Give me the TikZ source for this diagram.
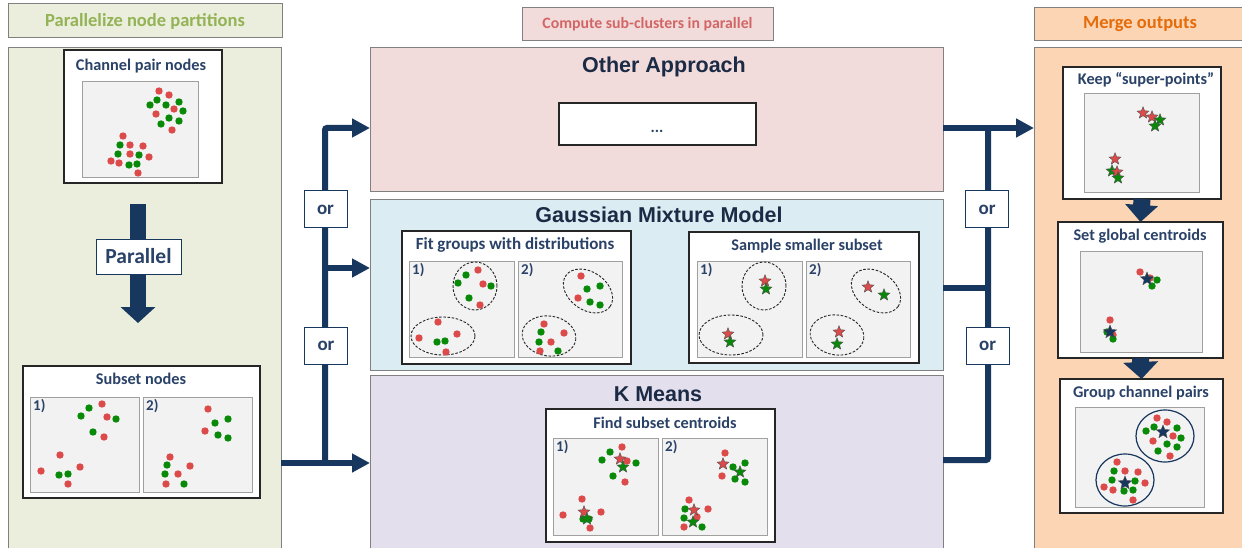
\documentclass[tikz,border=0pt]{standalone}
\usepackage{fontspec}
\setmainfont{Carlito}
\newfontfamily\arialf{Liberation Sans}
\usetikzlibrary{shapes.geometric,arrows.meta}
\definecolor{navy}{HTML}{17375E}
\definecolor{titlenavy}{HTML}{1B2B45}
\definecolor{subnavy}{HTML}{2A4268}
\definecolor{dotred}{HTML}{DC4A4A}
\definecolor{dotgreen}{HTML}{088A08}
\definecolor{leftfill}{HTML}{EBEEDC}
\definecolor{lefttext}{HTML}{93B356}
\definecolor{pinkfill}{HTML}{F2DCDB}
\definecolor{pinktext}{HTML}{D26666}
\definecolor{bluefill}{HTML}{DBEDF3}
\definecolor{lavfill}{HTML}{E4DFEC}
\definecolor{peachfill}{HTML}{FCD5B5}
\definecolor{orangetext}{HTML}{E46C0A}
\definecolor{innerfill}{HTML}{F2F2F2}
\definecolor{innerdraw}{HTML}{A0A0A0}
\newcommand\reddots[1]{\foreach \p in {#1} \fill[dotred] \p circle[radius=3.7pt];}
\newcommand\greendots[1]{\foreach \p in {#1} \fill[dotgreen] \p circle[radius=3.7pt];}
\tikzset{
  box/.style={anchor=north west, inner sep=0pt, outer sep=0pt},
  panel/.style={box, draw=black!50, line width=0.8pt},
  card/.style={box, fill=white, draw=black!85, line width=1.2pt},
  inner/.style={box, fill=innerfill, draw=innerdraw, line width=1pt},
  ttl/.style={font=\fontsize{16.3}{18}\selectfont\bfseries, text=subnavy, inner sep=0pt},
  bigttl/.style={font=\arialf\fontsize{21.5}{24}\selectfont\bfseries, text=titlenavy, inner sep=0pt},
  hdr/.style={font=\fontsize{18.5}{20}\selectfont\bfseries, inner sep=0pt},
  num/.style={font=\fontsize{15}{17}\selectfont\bfseries, text=subnavy, inner sep=0pt, anchor=north west},
  orbox/.style={draw=navy, line width=1pt, fill=white, minimum width=43pt, minimum height=37pt, inner sep=0pt, font=\fontsize{19}{21}\selectfont\bfseries, text=subnavy},
  conn/.style={draw=navy, line width=6pt},
  arr/.tip={Triangle[length=18pt,width=18pt]},
  rstar/.style={star, star points=5, star point ratio=2.3, minimum size=12.5pt, inner sep=0pt, fill=dotred, draw=black!70, line width=0.4pt},
  gstar/.style={rstar, fill=dotgreen},
  nstar/.style={rstar, fill=navy, minimum size=14pt},
  dell/.style={draw=black!85, line width=0.9pt, dash pattern=on 2.6pt off 1.6pt},
}
\begin{document}
\begin{tikzpicture}[x=1pt,y=-1pt]
\useasboundingbox (0,0) rectangle (1242,548);
\clip (0,0) rectangle (1242,548);
\fill[white] (0,0) rectangle (1242,548);

% ---------------- left section
\node[panel, fill=leftfill, minimum width=274pt, minimum height=34pt] (hdrL) at (8,3) {};
\node[hdr, text=lefttext] at ([yshift=-1pt]hdrL.center) {Parallelize node partitions};
\node[panel, fill=leftfill, minimum width=273pt, minimum height=520pt] (panL) at (8,47) {};

\node[card, minimum width=158pt, minimum height=133pt] (chan) at (64,50) {};
\node[ttl] at (141,66) {Channel pair nodes};
\node[inner, minimum width=116pt, minimum height=96pt] (chanin) at (82,82) {};
\reddots{(159,91),(169,95),(174,109),(156,114),(172,130),(123,136),(130,145),(143,146),(130,154),(149,157),(111,161),(119,163),(138,173)}
\greendots{(157,100),(150,105),(166,105),(179,102),(183,111),(169,118),(179,121),(161,124),(120,145),(118,154),(139,155),(129,165),(137,164)}

\coordinate (pa1) at (138,204);
\coordinate (pa2) at (138,323);
\draw[navy, line width=16pt, -{Triangle[length=16pt,width=34pt]}] (pa1) -- (pa2);
\node[box, draw=navy, line width=1pt, fill=white, minimum width=85pt, minimum height=35pt] (par) at (96,239) {};
\node[font=\fontsize{21.5}{23}\selectfont\bfseries, text=subnavy, inner sep=0pt] at (par.center) {Parallel};

\node[card, minimum width=237pt, minimum height=132pt] (subset) at (23,366) {};
\node[ttl] at (141,379) {Subset nodes};
\node[inner, minimum width=109pt, minimum height=95pt] (sub1) at (30,397) {};
\node[inner, minimum width=109pt, minimum height=95pt] (sub2) at (143,397) {};
\node[num] at ([shift={(3,2)}]sub1.north west) {1)};
\node[num] at ([shift={(3,2)}]sub2.north west) {2)};
\reddots{(102,404),(107,417),(104,437),(60,455),(41,471),(80,467),(68,484)}
\greendots{(89,408),(81,416),(116,419),(93,432),(59,475),(68,474)}
\reddots{(208,409),(205,431),(170,457),(190,466),(178,474),(166,484)}
\greendots{(215,423),(228,419),(218,435),(228,438),(167,465),(165,474),(184,484)}

% ---------------- middle section
\node[panel, fill=pinkfill, minimum width=251pt, minimum height=33pt] (hdrM) at (522,7) {};
\node[hdr, text=pinktext, font=\fontsize{15.8}{18}\selectfont\bfseries] at ([yshift=-1pt]hdrM.center) {Compute sub-clusters in parallel};

\node[panel, fill=pinkfill, minimum width=573pt, minimum height=144pt] (other) at (370,47) {};
\node[bigttl] at (664,67) {Other Approach};
\node[card, minimum width=197pt, minimum height=42pt] (dots) at (559,103) {};
\node[font=\fontsize{16}{18}\selectfont\bfseries, text=subnavy, inner sep=0pt] at (657,131) {...};

\node[panel, fill=bluefill, minimum width=573pt, minimum height=171pt] (gmm) at (370,199) {};
\node[bigttl] at (659,215) {Gaussian Mixture Model};

\node[card, minimum width=229pt, minimum height=133pt] (fit) at (402,231) {};
\node[ttl, font=\fontsize{17}{19}\selectfont\bfseries] at (515,245) {Fit groups with distributions};
\node[inner, minimum width=105pt, minimum height=96pt] (fit1) at (409,261) {};
\node[inner, minimum width=104pt, minimum height=96pt] (fit2) at (518,261) {};
\node[num] at ([shift={(3,2)}]fit1.north west) {1)};
\node[num] at ([shift={(3,2)}]fit2.north west) {2)};
\draw[dell] (475,286) ellipse [x radius=22pt, y radius=24pt];
\draw[dell] (443,336) ellipse [x radius=32pt, y radius=19pt];
\reddots{(478,270),(483,284),(480,305),(438,322),(419,338),(457,334),(446,352)}
\greendots{(466,275),(458,283),(491,286),(469,298),(437,342),(445,341)}
\draw[dell, rotate around={-35:(588,291)}] (588,291) ellipse [x radius=27pt, y radius=19pt];
\draw[dell, rotate around={-8:(549,336)}] (549,336) ellipse [x radius=27pt, y radius=20pt];
\reddots{(581,276),(578,298),(544,324),(564,333),(551,342),(540,351)}
\greendots{(587,289),(600,286),(590,302),(600,305),(541,332),(539,342),(558,351)}

\node[card, minimum width=230pt, minimum height=131pt] (samp) at (689,232) {};
\node[ttl] at (807,246) {Sample smaller subset};
\node[inner, minimum width=105pt, minimum height=96pt] (samp1) at (697,261) {};
\node[inner, minimum width=104pt, minimum height=96pt] (samp2) at (806,261) {};
\node[num] at ([shift={(3,2)}]samp1.north west) {1)};
\node[num] at ([shift={(3,2)}]samp2.north west) {2)};
\draw[dell] (764,286) ellipse [x radius=22pt, y radius=24pt];
\draw[dell] (731,335) ellipse [x radius=32pt, y radius=20pt];
\draw[dell, rotate around={-35:(876,291)}] (876,291) ellipse [x radius=27pt, y radius=19pt];
\draw[dell, rotate around={-8:(837,335)}] (837,335) ellipse [x radius=27pt, y radius=20pt];
\node[rstar] at (765,281) {}; \node[gstar] at (766,289) {};
\node[rstar] at (728,334) {}; \node[gstar] at (730,342) {};
\node[rstar] at (868,287) {}; \node[gstar] at (884,295) {};
\node[rstar] at (839,332) {}; \node[gstar] at (837,344) {};

\node[panel, fill=lavfill, minimum width=573pt, minimum height=190pt] (kmeans) at (370,375) {};
\node[bigttl] at (658,394) {K Means};

\node[card, minimum width=229pt, minimum height=133pt] (find) at (546,409) {};
\node[ttl] at (665,423) {Find subset centroids};
\node[inner, minimum width=105pt, minimum height=97pt] (find1) at (553,438) {};
\node[inner, minimum width=105pt, minimum height=97pt] (find2) at (662,438) {};
\node[num] at ([shift={(3,2)}]find1.north west) {1)};
\node[num] at ([shift={(3,2)}]find2.north west) {2)};
\reddots{(622,447),(627,461),(625,482),(582,499),(563,515),(601,512),(590,528)}
\greendots{(610,452),(602,460),(636,463),(613,476),(583,519),(589,519)}
\node[rstar] at (620,459) {}; \node[gstar] at (623,467) {};
\node[rstar] at (584,512) {}; \node[gstar] at (587,519) {};
\reddots{(725,453),(722,476),(689,500),(708,509),(697,517),(684,527)}
\greendots{(733,467),(745,463),(735,479),(745,482),(685,509),(684,518),(702,527)}
\node[rstar] at (723,464) {}; \node[gstar] at (740,472) {};
\node[rstar] at (694,510) {}; \node[gstar] at (693,522) {};

% ---------------- right section
\node[panel, fill=peachfill, minimum width=212pt, minimum height=33pt] (hdrR) at (1034,7) {};
\node[hdr, text=orangetext] at (1140,24) {Merge outputs};
\node[panel, fill=peachfill, minimum width=212pt, minimum height=520pt] (panR) at (1034,47) {};

\node[card, minimum width=158pt, minimum height=132pt] (kp) at (1063,67) {};
\node[ttl] at (1146,80) {Keep “super-points”};
\node[inner, minimum width=115pt, minimum height=99pt] (kpin) at (1084,94) {};
\node[rstar] at (1143,113) {}; \node[rstar] at (1152,117) {};
\node[gstar] at (1160,120) {}; \node[gstar] at (1155,126) {};
\node[rstar] at (1115,159) {}; \node[gstar] at (1112,171) {};
\node[rstar] at (1117,172) {}; \node[gstar] at (1118,178) {};

\node[card, minimum width=165pt, minimum height=136pt] (sg) at (1058,222) {};
\node[ttl] at (1140,236) {Set global centroids};
\node[inner, minimum width=122pt, minimum height=101pt] (sgin) at (1080,251) {};
\reddots{(1140,272),(1150,278),(1110,320),(1113,335)}
\greendots{(1157,280),(1152,286),(1107,332),(1113,339)}
\node[nstar] at (1147,279) {};
\node[nstar] at (1110,332) {};

\node[card, minimum width=163pt, minimum height=134pt] (gc) at (1060,379) {};
\node[ttl] at (1141,393) {Group channel pairs};
\node[inner, minimum width=129pt, minimum height=100pt] (gcin) at (1075,407) {};
\draw[navy, line width=1.2pt] (1165,436) ellipse [x radius=29pt, y radius=26pt];
\draw[navy, line width=1.2pt] (1125,480) ellipse [x radius=29pt, y radius=26pt];
\reddots{(1157,418),(1167,422),(1173,436),(1153,441),(1170,456),(1117,462),(1125,471),(1138,472),(1145,483),(1104,487),(1113,490),(1133,500)}
\greendots{(1154,427),(1146,431),(1177,428),(1181,438),(1167,444),(1177,447),(1158,451),(1114,471),(1112,480),(1135,481),(1124,491),(1133,490)}
\node[nstar] at (1163,432) {};
\node[nstar] at (1125,483) {};

\draw[navy, line width=17pt, -{Triangle[length=17pt,width=32pt]}] (kp.south) -- (sg.north);
\draw[navy, line width=17pt, -{Triangle[length=17pt,width=34pt]}] (sg.south) -- (gc.north);

% ---------------- connectors
\coordinate (bL) at (325,463);
\coordinate (tL) at (325,128);
\coordinate (mL) at (325,268);
\draw[conn, -{arr}] (panL.east |- bL) -- (kmeans.west |- bL);
\draw[conn, -{arr}, rounded corners=2pt] (bL) -- (tL) -- (other.west |- tL);
\draw[conn, -{arr}] (mL) -- (gmm.west |- mL);

\coordinate (tR) at (988,128);
\coordinate (mR) at (988,288);
\coordinate (bR) at (988,460);
\draw[conn, -{arr}] (other.east |- tR) -- (panR.west |- tR);
\draw[conn, rounded corners=2pt] (tR) -- (bR) -- (kmeans.east |- bR);
\draw[conn] (gmm.east |- mR) -- (mR);

\node[orbox] (or1) at (325.5,209.5) {or};
\node[orbox] (or2) at (326,346) {or};
\node[orbox] (or3) at (987,209.5) {or};
\node[orbox] (or4) at (987.5,346) {or};
\end{tikzpicture}
\end{document}
